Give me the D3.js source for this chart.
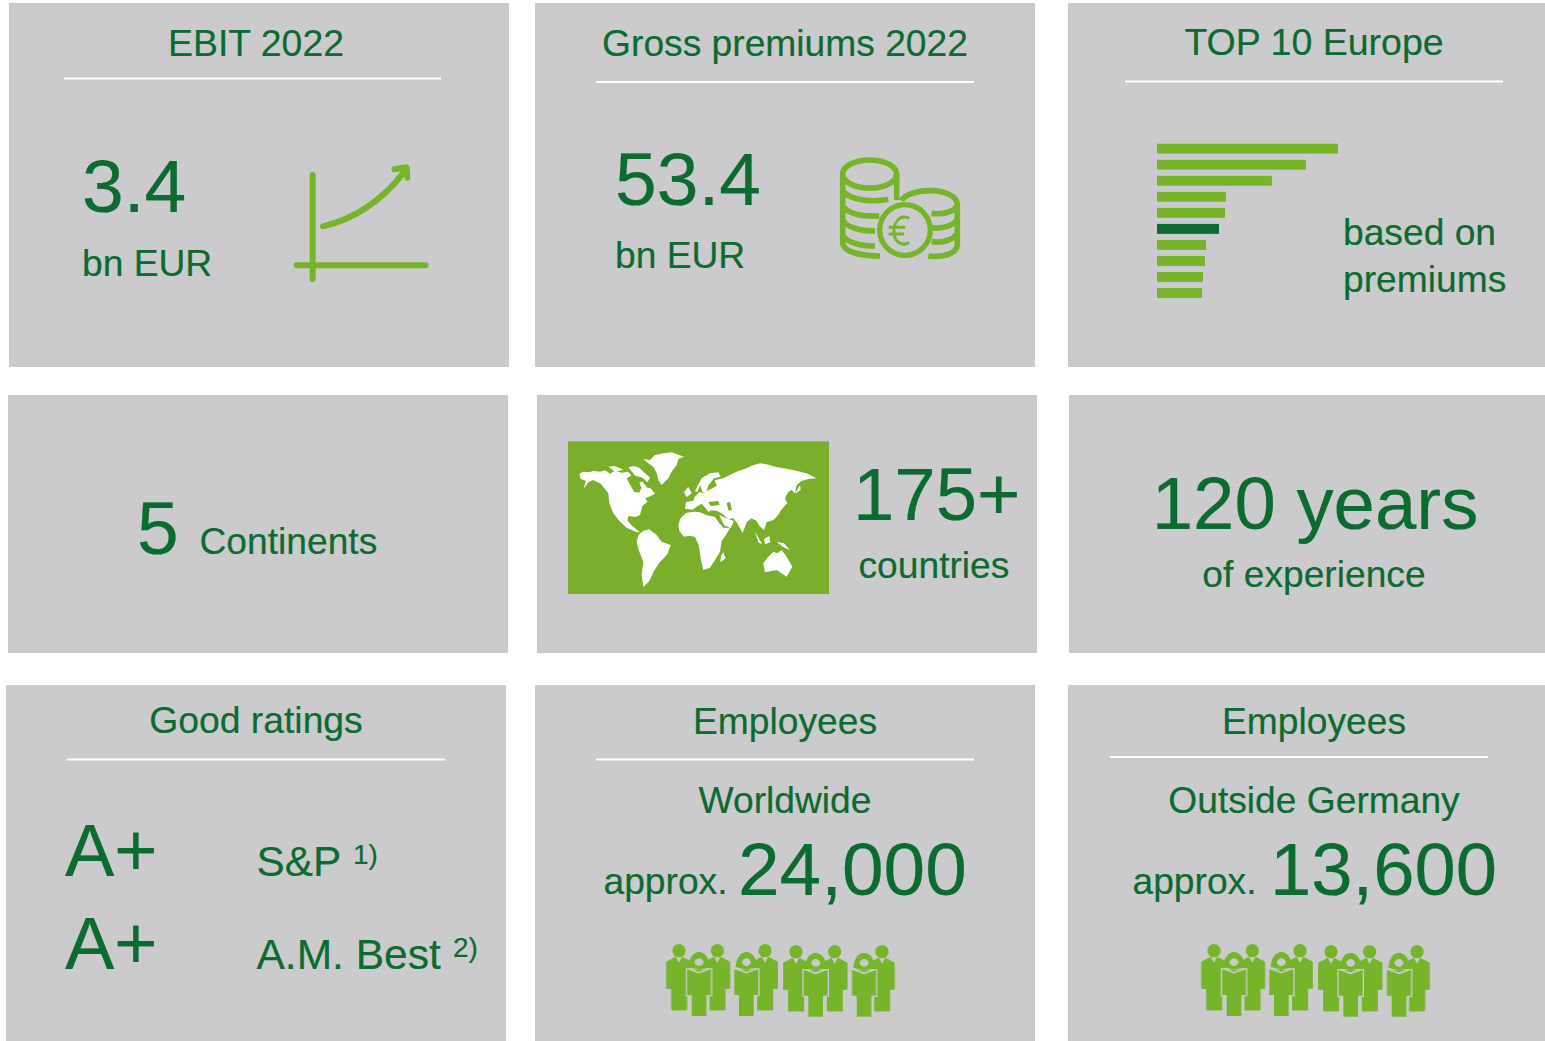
<!DOCTYPE html>
<html><head><meta charset="utf-8">
<script src="https://cdn.jsdelivr.net/npm/d3@7"></script>
<style>html,body{margin:0;padding:0;background:#fff}svg{display:block}text{font-family:"Liberation Sans",Arial,sans-serif;fill:#0b6b30;stroke:#0b6b30;stroke-width:.2}</style>
</head><body><div id="c"></div>
<script>
// Values
const topTenValues = [155.9,128.3,99,59.4,58.6,53.4,42.2,41.3,39.6,38.8];
const highlightIndex = 5;

const panelRects = [[9,3,500,364],[535,3,500,364],[1068,3,477,364],[8,395,500,258],[537,395,500,258],[1069,395,476,258],[6,685,500,356],[535,685,500,356],[1068,685,477,356]];
const ruleLines = [[64,441,78.5],[596,974,82],[1125,1503,81.5],[67,445,759.5],[596,974,759.5],[1110,1488,757]];
const labels = [
 [256,55.5,37.4,"middle","EBIT 2022"],[785,55.5,37.2,"middle","Gross premiums 2022"],[1314,55,37.5,"middle","TOP 10 Europe"],
 [82,212,75,"start","3.4"],[82,276,37.2,"start","bn EUR"],
 [615,205,75,"start","53.4"],[615,268,37.2,"start","bn EUR"],
 [1343,245,37.2,"start","based on"],[1343,292,37.2,"start","premiums"],
 [137,554,75,"start","5"],[199.5,554,37.2,"start","Continents"],
 [853,520,74.4,"start","175+"],[858.5,578,37.2,"start","countries"],
 [1315,529,74.4,"middle","120 years"],[1314,587,37.2,"middle","of experience"],
 [256,733,37.3,"middle","Good ratings"],
 [65,876,74,"start","A+"],[65,969,74,"start","A+"],
 [256.5,876,42.3,"start","S&P"],[353,864,28,"start","1)"],
 [256.5,969,42.5,"start","A.M. Best"],[453,957,28,"start","2)"],
 [785,734,37.2,"middle","Employees"],[785,813,37.2,"middle","Worldwide"],
 [603.5,894,37.2,"start","approx."],[738,895,74.8,"start","24,000"],
 [1314,734,37.2,"middle","Employees"],[1314,813,37.2,"middle","Outside Germany"],
 [1132.5,894,37.2,"start","approx."],[1270,895,74.2,"start","13,600"]
];
const menX=[72,187,330,423,539,681], menY=[47,47,47,50,50,50];
const womenX=[132,274,482,627], womenY=[52,52,54,54];
const continents=[
 "58,118 68,110 85,112 100,108 120,110 135,106 150,116 165,107 185,113 205,110 214,122 200,130 208,145 222,170 238,173 244,158 238,142 248,140 262,158 272,160 285,176 270,184 256,190 262,200 247,214 240,240 226,246 206,243 202,256 216,272 240,292 228,291 200,278 178,258 160,235 148,205 145,175 122,146 100,135 85,142 70,162 78,137 62,132",
 "145,95 165,93 190,104 165,110","205,97 222,93 238,98 250,110 270,128 262,142 248,128 226,122 214,108",
 "250,72 270,75 285,60 310,55 335,52 372,65 355,72 350,90 335,110 325,130 305,150 295,135 290,115 280,95 265,85",
 "235,300 250,288 268,283 290,300 305,320 332,330 322,358 298,383 282,408 268,438 250,456 245,420 250,380 236,345 230,320",
 "355,268 362,250 378,234 402,230 420,232 440,241 465,245 478,265 490,278 510,280 498,300 485,318 480,350 465,375 450,398 430,405 422,370 416,330 405,306 390,302 372,305 358,288",
 "490,352 497,370 481,382 483,362",
 "375,221 378,201 400,197 404,186 418,172 432,174 446,166 470,152 464,136 490,130 520,115 535,108 560,100 575,92 600,85 620,88 645,95 670,100 700,105 740,115 770,130 745,132 725,138 710,150 705,175 695,165 685,170 675,190 682,205 665,222 655,240 640,255 620,262 612,285 598,272 590,258 575,250 560,262 548,295 532,265 520,250 505,252 487,236 472,228 452,226 446,232 436,218 425,206 412,214 398,224",
 "478,240 505,252 522,258 512,280 492,270",
 "405,168 425,130 450,115 475,112 482,125 462,130 446,150 438,172 428,172 420,150 412,172",
 "372,172 385,155 395,175 380,186","645,226 675,195 680,205 660,229","705,176 720,150 722,165",
 "585,290 607,328 595,322","612,312 628,303 631,322 616,328","650,320 672,325 690,345 668,335",
 "610,385 622,368 640,350 652,355 665,345 680,365 697,395 680,425 650,405 615,412"
];
const inlandSeas=["445,201 475,198 479,210 452,213","500,204 510,200 516,226 505,226","215,130 222,126 228,132 220,138"];

const GREY="#cbcbcd", GREEN="#76b52b", DARK="#0d6b32";
const svg=d3.select("#c").append("svg").attr("width",1545).attr("height",1041);
const defs=svg.append("defs");
defs.append("filter").attr("id","soft").append("feGaussianBlur").attr("stdDeviation",0.6);

svg.append("g").selectAll("rect").data(panelRects).join("rect")
 .attr("x",d=>d[0]).attr("y",d=>d[1]).attr("width",d=>d[2]).attr("height",d=>d[3]).attr("fill",GREY);
svg.append("g").selectAll("line").data(ruleLines).join("line")
 .attr("x1",d=>d[0]).attr("x2",d=>d[1]).attr("y1",d=>d[2]).attr("y2",d=>d[2]).attr("stroke","#fff").attr("stroke-width",2.2);
svg.append("g").selectAll("text").data(labels).join("text")
 .attr("x",d=>d[0]).attr("y",d=>d[1]).attr("font-size",d=>d[2]).attr("text-anchor",d=>d[3]).text(d=>d[4]);

// TOP 10 bar chart
const xs=d3.scaleLinear().domain([0,155.9]).range([1157,1338]);
const ys=d3.scaleBand().domain(d3.range(topTenValues.length)).range([143.7,298]).paddingInner(0.38).paddingOuter(0);
svg.append("g").attr("filter","url(#soft)").selectAll("rect").data(topTenValues).join("rect")
 .attr("x",xs(0)).attr("y",(d,i)=>ys(i)).attr("width",d=>xs(d)-xs(0)).attr("height",ys.bandwidth())
 .attr("fill",(d,i)=>i===highlightIndex?DARK:GREEN);

// Growth icon
const g1=svg.append("g").attr("transform","translate(285,155) scale(.3333)").attr("filter","url(#soft)")
 .attr("fill","none").attr("stroke",GREEN).attr("stroke-width",18).attr("stroke-linecap","round").attr("stroke-linejoin","round");
g1.append("path").attr("d","M83 60V373M35 331H422M114 214C200 195 290 140 358 50M328 43L365 37L367 68");

// Coins icon
const g2=svg.append("g").attr("transform","translate(830,150) scale(.3333)").attr("filter","url(#soft)")
 .attr("fill","none").attr("stroke",GREEN).attr("stroke-width",17);
g2.append("path").attr("d","M215 152C235 112 380 108 382 165V285C380 315 330 322 295 318M305 190C340 195 375 185 382 165M305 233C340 238 375 225 382 205M305 275C340 280 375 268 382 248");
g2.append("ellipse").attr("cx",119).attr("cy",72).attr("rx",81).attr("ry",42);
g2.append("path").attr("d","M38 72V280C40 305 90 318 150 318M38 120C50 145 110 160 175 148M38 165C50 190 90 200 148 198M38 210C50 232 90 243 135 243M38 255C50 277 90 288 135 288M200 72V150");
g2.append("circle").attr("cx",225).attr("cy",240).attr("r",76).attr("stroke-width",16).attr("fill",GREY);
g2.append("path").attr("d","M238 205C205 190 190 225 192 245C192 275 215 290 238 278M176 232H226M176 252H222").attr("stroke-width",9);

// World map
const g3=svg.append("g").attr("transform","translate(560,435) scale(.3333)");
g3.append("rect").attr("x",24).attr("y",19).attr("width",783).attr("height",458).attr("fill","#7bae2b");
const g3m=g3.append("g").attr("filter","url(#soft)");
g3m.selectAll("polygon.l").data(continents).join("polygon").attr("class","l").attr("points",d=>d).attr("fill","#fff");
g3m.selectAll("polygon.s").data(inlandSeas).join("polygon").attr("class","s").attr("points",d=>d).attr("fill","#7bae2b");

// People icons
function people(ox){
 const g=svg.append("g").attr("transform",`translate(${ox},935) scale(.3333)`).attr("filter","url(#soft)");
 const men=g.selectAll(".m").data(d3.zip(menX,menY)).join("g").attr("transform",d=>`translate(${d[0]},${d[1]})`);
 men.append("circle").attr("r",20).attr("fill",GREEN);
 men.append("path").attr("d","M-37 34L-10 20L0 40L10 20L37 34V113H23V178H-22V113H-37Z").attr("fill",GREEN).attr("stroke",GREEN).attr("stroke-width",3);
 const wom=g.selectAll(".w").data(d3.zip(womenX,womenY)).join("g").attr("transform",d=>`translate(${d[0]},${d[1]})`);
 wom.append("path").attr("d","M-36 52V128H-22V191H22V128H36V52Z").attr("fill",GREEN).attr("stroke",GREY).attr("stroke-width",8).attr("paint-order","stroke");
 wom.append("path").attr("d","M-32 44C-28 -16 28 -16 33 44C20 47 10 50 0 52C-10 50 -20 47 -32 44Z").attr("fill",GREEN);
 wom.append("path").attr("d","M-14 30C-8 14 8 14 14 30C10 44 -8 46 -14 30Z").attr("fill",GREY);
 wom.append("path").attr("d","M-30 50L0 61L30 50").attr("fill","none").attr("stroke",GREY).attr("stroke-width",5);
}
people(655);people(1190);
</script></body></html>
